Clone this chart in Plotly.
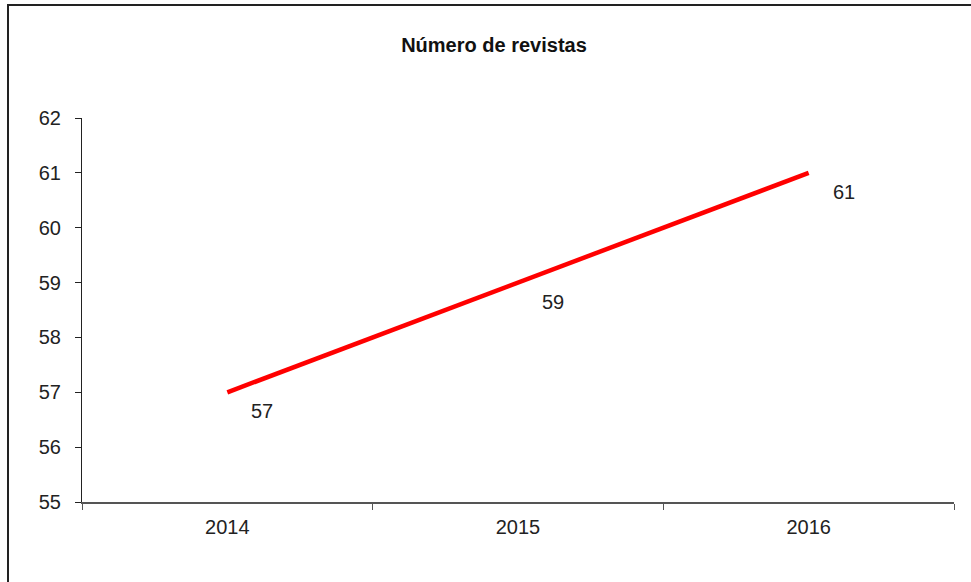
import plotly.graph_objects as go

years = ["2014", "2015", "2016"]
values = [57, 59, 61]
y_ticks = [55, 56, 57, 58, 59, 60, 61, 62]
title_text = "Número de revistas"

xpos = list(range(len(years)))

fig = go.Figure()
fig.add_trace(go.Scatter(
    x=xpos, y=values, mode="lines",
    line=dict(color="#FF0000", width=4.5),
    hoverinfo="skip", showlegend=False,
))

for xi, v in zip(xpos, values):
    fig.add_annotation(x=xi, y=v, xref="x", yref="y", text=str(v),
                       showarrow=False, xshift=35, yshift=-19,
                       font=dict(family="Liberation Sans, Arial", size=20, color="#222"))

L, R, T, B = 82, 17, 118, 80
W, H = 971, 582
pw = W - L - R
ph = H - T - B

# outer frame
fig.add_shape(type="rect", xref="paper", yref="paper",
              x0=(8 - L) / pw, x1=(W + 5 - L) / pw,
              y0=(H - B - (H + 10)) / ph, y1=(H - B - 5) / ph,
              line=dict(color="#222", width=2), fillcolor="rgba(0,0,0,0)", layer="below")

fig.update_layout(
    width=W, height=H,
    margin=dict(l=L, r=R, t=T, b=B),
    paper_bgcolor="white", plot_bgcolor="white",
    font=dict(family="Liberation Sans, Arial", size=20, color="#222"),
    title=dict(text="<b>" + title_text + "</b>", x=(494) / W, xanchor="center",
               y=1 - 45 / H, yanchor="middle",
               font=dict(size=20, color="#111")),
    xaxis=dict(range=[-0.5, 2.5], tickvals=xpos, ticktext=years,
               ticks="", showgrid=False, zeroline=False,
               showline=True, linecolor="#555", linewidth=2,
               minor=dict(ticks="outside", tick0=-0.5, dtick=1, ticklen=6,
                          tickcolor="#555", tickwidth=1, showgrid=False),
               ticklabelstandoff=6,
               tickfont=dict(size=20), fixedrange=True),
    yaxis=dict(range=[55, 62], tickvals=y_ticks, ticks="outside", ticklen=6,
               tickcolor="#222", showgrid=False, zeroline=False,
               showline=True, linecolor="#222", linewidth=1,
               ticklabelstandoff=10,
               tickfont=dict(size=20), fixedrange=True),
)

fig.write_html("out.html", config={"displayModeBar": False},
               post_script="document.body.style.margin='0';")
